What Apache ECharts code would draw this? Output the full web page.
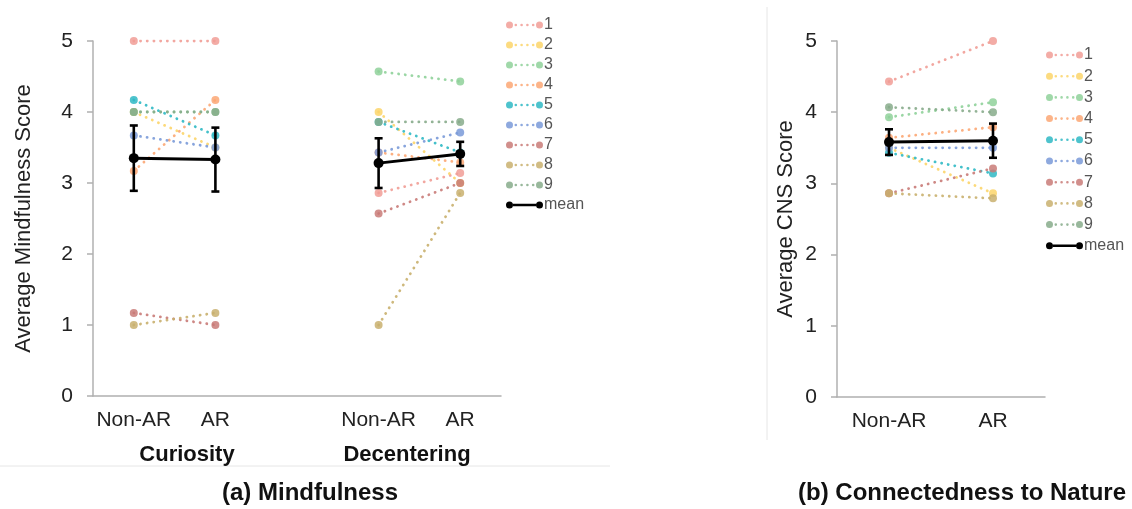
<!DOCTYPE html>
<html>
<head>
<meta charset="utf-8">
<script src="https://cdn.jsdelivr.net/npm/echarts@6/dist/echarts.min.js"></script>
<style>
  html, body { margin: 0; background: #fff; }
  #chart { width: 1132px; height: 509px; }
</style>
</head>
<body>
<div id="chart"></div>
<script>
// x categories: left panel has Curiosity (0,1), an empty gap slot, Decentering (3,4)
const mindCategories = ['Non-AR', 'AR', '', 'Non-AR', 'AR'];
const cnsCategories = ['Non-AR', 'AR'];
const participants = ['1', '2', '3', '4', '5', '6', '7', '8', '9'];
const colors = ['#f19d96', '#fcd56a', '#8fd19a', '#fca774', '#2fb9c4',
                '#7a9ad8', '#c97b78', '#c9b06e', '#87ab8b'];

// per participant: [Non-AR, AR]
const curiosity = [[5, 5], [4, 3.5], [4, 4], [3.17, 4.17], [4.17, 3.67],
                   [3.67, 3.5], [1.17, 1], [1, 1.17], [4, 4]];
const decentering = [[2.86, 3.14], [4, 3], [4.57, 4.43], [3.43, 3.29], [3.86, 3.43],
                     [3.43, 3.71], [2.57, 3], [1, 2.86], [3.86, 3.86]];
const cns = [[4.43, 5], [3.5, 2.86], [3.93, 4.14], [3.64, 3.79], [3.43, 3.14],
             [3.5, 3.5], [2.86, 3.21], [2.86, 2.79], [4.07, 4]];

// means and error bar half-widths: [Non-AR, AR]
const curiosityMean = [3.35, 3.33];
const curiosityErr = [0.46, 0.45];
const decenteringMean = [3.28, 3.41];
const decenteringErr = [0.35, 0.17];
const cnsMean = [3.58, 3.6];
const cnsErr = [0.18, 0.24];

const font = 'Liberation Sans, Arial, sans-serif';

// legend icons: dotted line with end dots, and a solid one for the mean
function circle(cx, cy, r) {
    return 'M' + (cx - r) + ',' + cy + 'a' + r + ',' + r + ' 0 1,0 ' + (2 * r) + ',0' +
           'a' + r + ',' + r + ' 0 1,0 ' + (-2 * r) + ',0Z';
}
const dotIcon = 'path://' + circle(3.5, 3.5, 3.5) + circle(9.8, 3.5, 1.3) + circle(15.6, 3.5, 1.3) +
    circle(21.4, 3.5, 1.3) + circle(27.2, 3.5, 1.3) + circle(33.5, 3.5, 3.5);
const meanIcon = 'path://' + circle(3.5, 3.5, 3.5) + 'M7,2.2H30V4.8H7Z' + circle(33.5, 3.5, 3.5);

function participantSeries(i, data, xIdx) {
    return {
        name: participants[i],
        type: 'line',
        xAxisIndex: xIdx,
        yAxisIndex: xIdx,
        data: data,
        symbol: 'circle',
        symbolSize: 8,
        silent: true,
        z: 2,
        itemStyle: { color: colors[i], opacity: 0.85 },
        lineStyle: { color: colors[i], width: 2.8, type: [0.1, 6.6], cap: 'round', opacity: 0.9 }
    };
}

function meanSeries(data, xIdx) {
    return {
        name: 'mean',
        type: 'line',
        xAxisIndex: xIdx,
        yAxisIndex: xIdx,
        data: data,
        symbol: 'circle',
        symbolSize: 10,
        z: 5,
        itemStyle: { color: '#000' },
        lineStyle: { color: '#000', width: 3 }
    };
}

function errorSeries(points, xIdx) {
    return {
        type: 'custom',
        xAxisIndex: xIdx,
        yAxisIndex: xIdx,
        data: points,
        z: 4,
        encode: { x: 0, y: [1, 2] },
        renderItem: function (params, api) {
            const lo = api.coord([api.value(0), api.value(1)]);
            const hi = api.coord([api.value(0), api.value(2)]);
            const cap = 4;
            const style = { stroke: '#000', lineWidth: 2.6 };
            return {
                type: 'group',
                children: [
                    { type: 'line', shape: { x1: lo[0], y1: lo[1], x2: hi[0], y2: hi[1] }, style: style },
                    { type: 'line', shape: { x1: lo[0] - cap, y1: lo[1], x2: lo[0] + cap, y2: lo[1] }, style: style },
                    { type: 'line', shape: { x1: hi[0] - cap, y1: hi[1], x2: hi[0] + cap, y2: hi[1] }, style: style }
                ]
            };
        }
    };
}

const series = [];
participants.forEach(function (p, i) {
    series.push(participantSeries(i, [curiosity[i][0], curiosity[i][1], null, decentering[i][0], decentering[i][1]], 0));
});
series.push(meanSeries([curiosityMean[0], curiosityMean[1], null, decenteringMean[0], decenteringMean[1]], 0));
series.push(errorSeries([
    [0, curiosityMean[0] - curiosityErr[0], curiosityMean[0] + curiosityErr[0]],
    [1, curiosityMean[1] - curiosityErr[1], curiosityMean[1] + curiosityErr[1]],
    [3, decenteringMean[0] - decenteringErr[0], decenteringMean[0] + decenteringErr[0]],
    [4, decenteringMean[1] - decenteringErr[1], decenteringMean[1] + decenteringErr[1]]
], 0));
participants.forEach(function (p, i) {
    series.push(participantSeries(i, cns[i], 1));
});
series.push(meanSeries(cnsMean, 1));
series.push(errorSeries([
    [0, cnsMean[0] - cnsErr[0], cnsMean[0] + cnsErr[0]],
    [1, cnsMean[1] - cnsErr[1], cnsMean[1] + cnsErr[1]]
], 1));

const legendData = participants.map(function (p) { return { name: p, icon: dotIcon }; })
    .concat([{ name: 'mean', icon: meanIcon }]);

function yAxis(gridIdx, name, gap) {
    return {
        type: 'value',
        gridIndex: gridIdx,
        min: 0,
        max: 5,
        interval: 1,
        name: name,
        nameLocation: 'middle',
        nameGap: gap,
        nameTextStyle: { fontSize: 22, color: '#222', fontFamily: font },
        axisLine: { show: true, lineStyle: { color: '#b0b0b0', width: 1.5 } },
        axisTick: { show: true, length: 6, lineStyle: { color: '#b0b0b0', width: 1.5 } },
        axisLabel: { fontSize: 21, color: '#222', margin: 20, fontFamily: font },
        splitLine: { show: false }
    };
}

function xAxis(gridIdx, data) {
    return {
        type: 'category',
        gridIndex: gridIdx,
        data: data,
        axisLine: { lineStyle: { color: '#b0b0b0', width: 1.5 } },
        axisTick: { show: false },
        axisLabel: { fontSize: 21, color: '#222', margin: 14, fontFamily: font, interval: 0 }
    };
}

function legend(left, top, gap) {
    return {
        orient: 'vertical',
        left: left,
        top: top,
        padding: 0,
        itemWidth: 37,
        itemHeight: 7,
        itemGap: gap,
        selectedMode: false,
        data: legendData,
        textStyle: { fontSize: 16, color: '#555', fontFamily: font, padding: [0, 0, 0, -4] }
    };
}

const chart = echarts.init(document.getElementById('chart'));
chart.setOption({
    animation: false,
    textStyle: { fontFamily: font },
    grid: [
        { left: 93, top: 41, width: 408, height: 355 },
        { left: 837, top: 41, width: 208, height: 356 }
    ],
    xAxis: [xAxis(0, mindCategories), xAxis(1, cnsCategories)],
    yAxis: [yAxis(0, 'Average Mindfulness Score', 58), yAxis(1, 'Average CNS Score', 40)],
    legend: [legend(506, 17, 4), legend(1046, 47, 5.2)],
    series: series,
    graphic: [
        { type: 'line', shape: { x1: 0, y1: 466, x2: 610, y2: 466 }, style: { stroke: '#e6e6e6', lineWidth: 1 } },
        { type: 'line', shape: { x1: 767, y1: 7, x2: 767, y2: 440 }, style: { stroke: '#e6e6e6', lineWidth: 1 } },
        { type: 'text', x: 187, y: 455, style: { text: 'Curiosity', fontSize: 22, fontWeight: 'bold', fill: '#111',
            fontFamily: font, align: 'center', verticalAlign: 'middle' } },
        { type: 'text', x: 407, y: 455, style: { text: 'Decentering', fontSize: 22, fontWeight: 'bold', fill: '#111',
            fontFamily: font, align: 'center', verticalAlign: 'middle' } },
        { type: 'text', x: 310, y: 493, style: { text: '(a) Mindfulness', fontSize: 24, fontWeight: 'bold', fill: '#111',
            fontFamily: font, align: 'center', verticalAlign: 'middle' } },
        { type: 'text', x: 962, y: 493, style: { text: '(b) Connectedness to Nature', fontSize: 24, fontWeight: 'bold',
            fill: '#111', fontFamily: font, align: 'center', verticalAlign: 'middle' } }
    ]
});
</script>
</body>
</html>
